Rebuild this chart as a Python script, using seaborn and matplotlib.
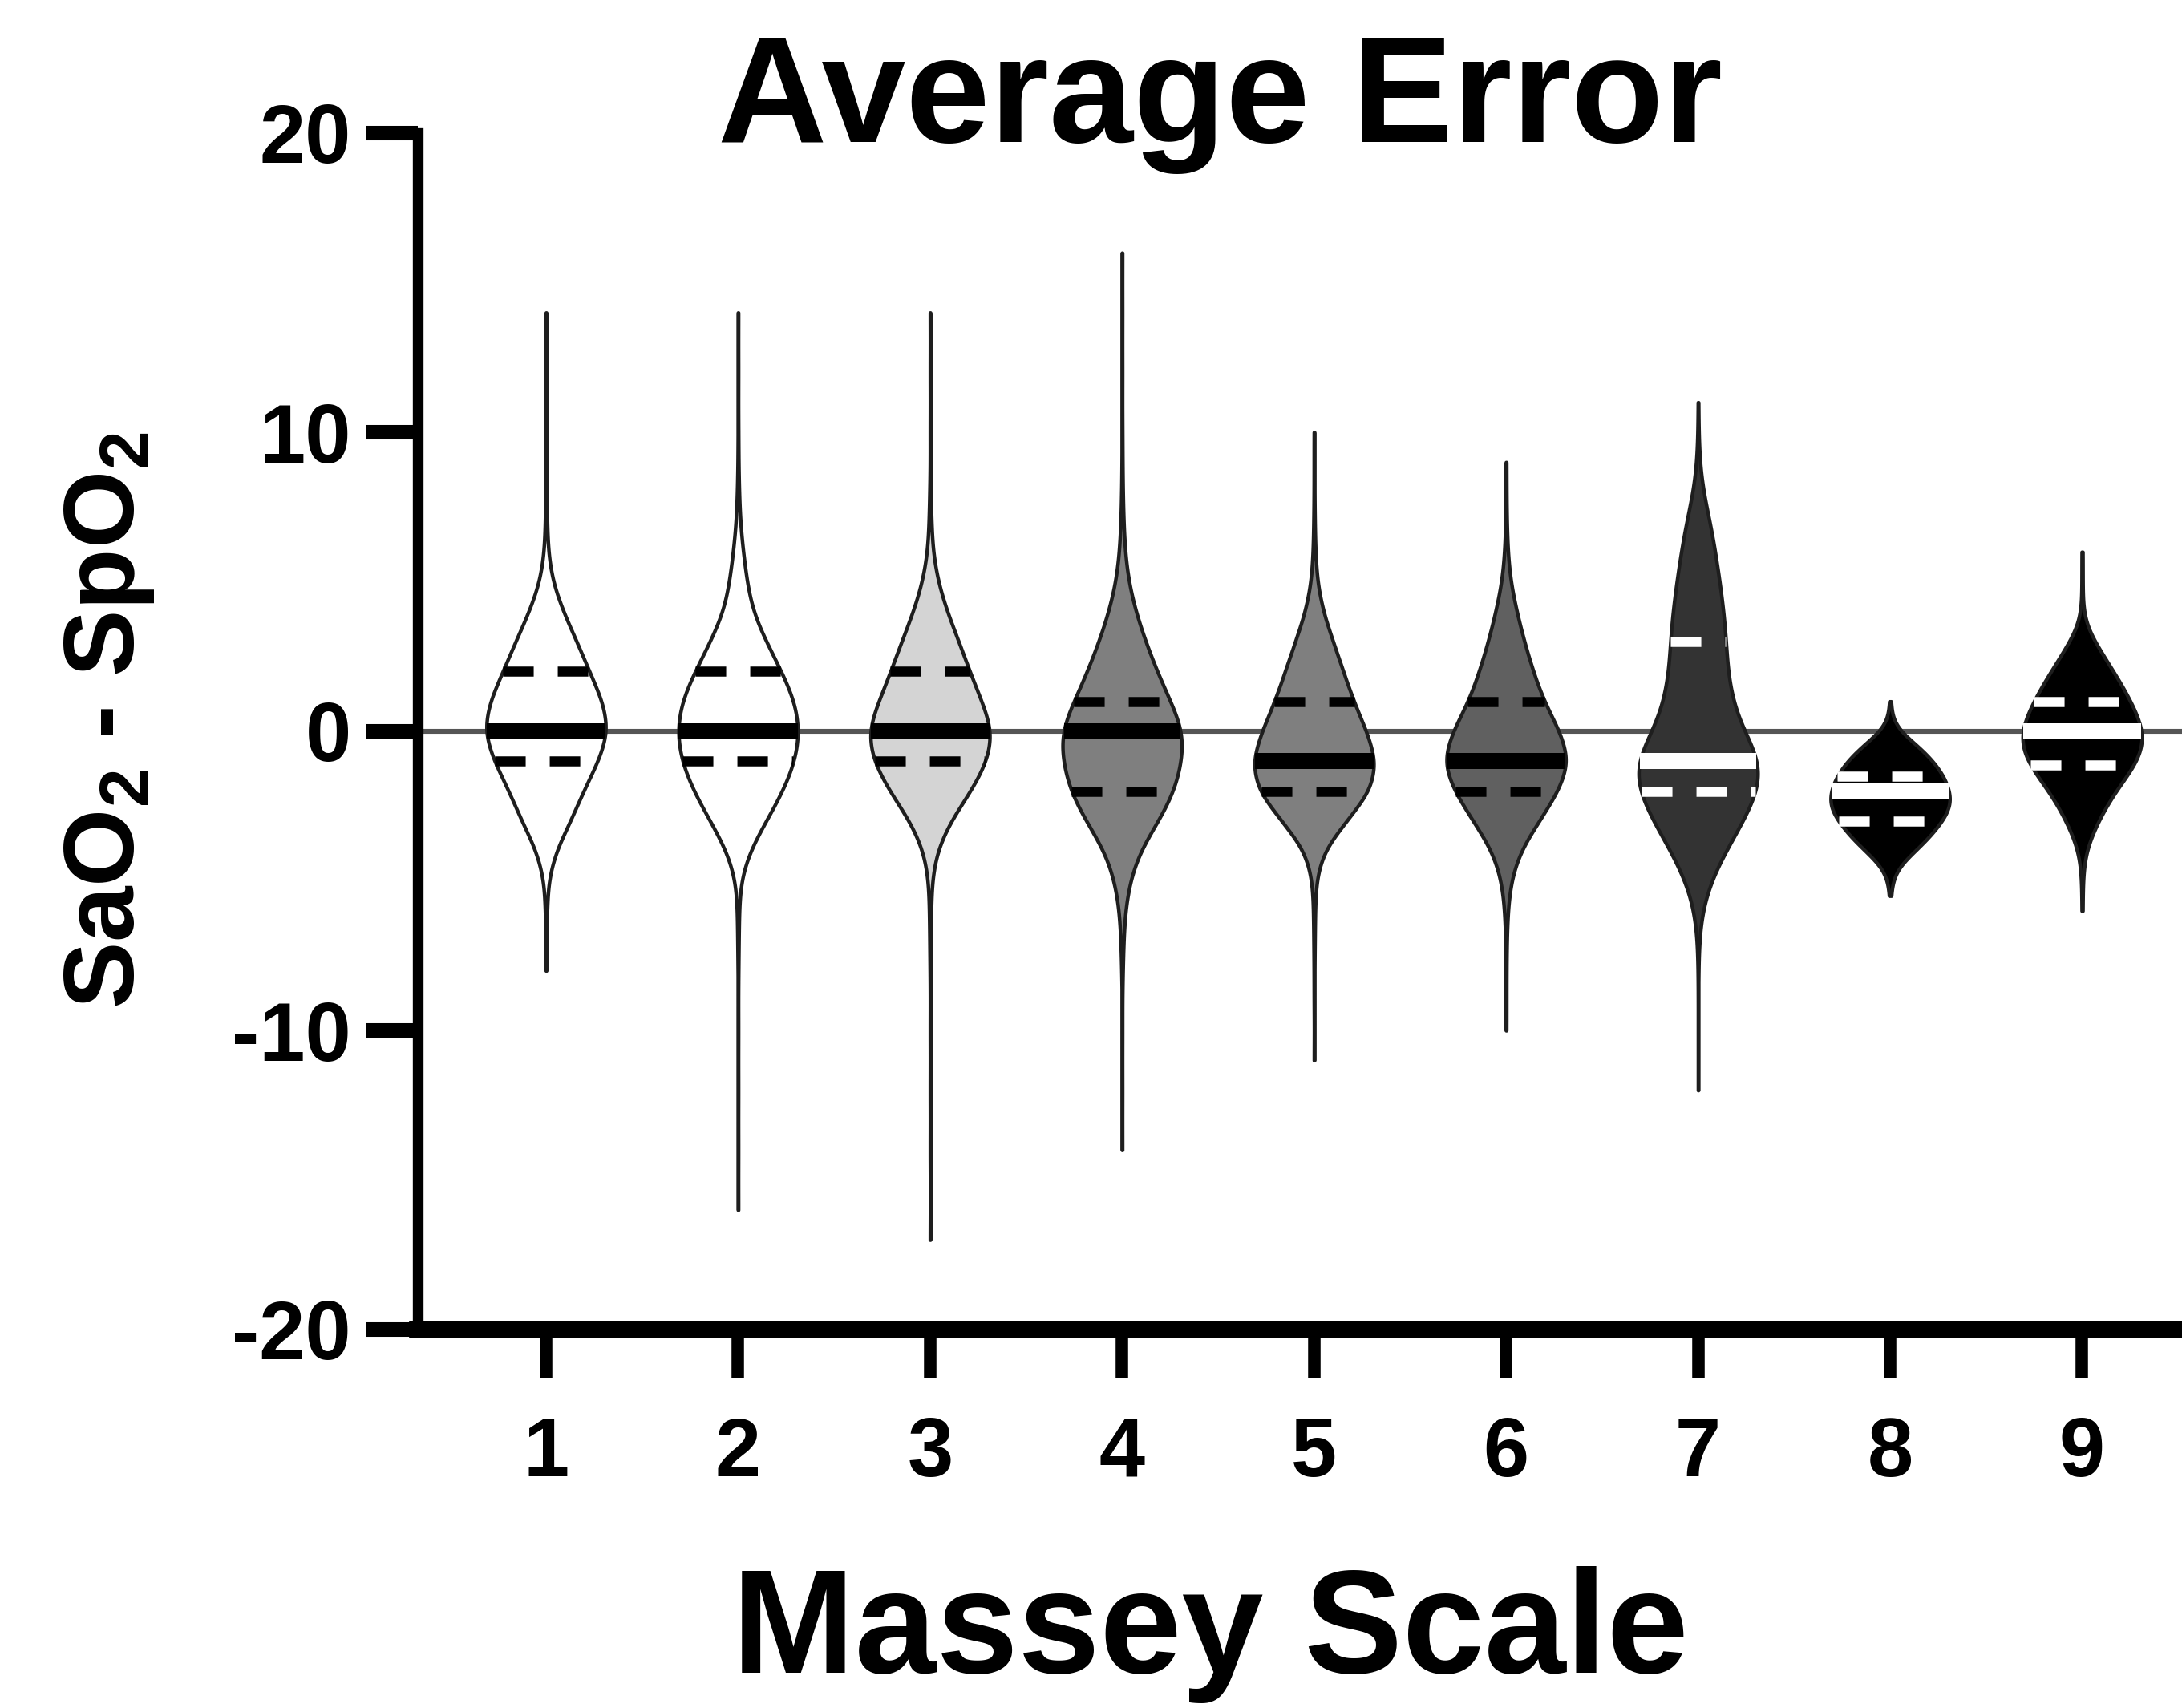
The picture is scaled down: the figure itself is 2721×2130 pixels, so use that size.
import numpy as np
import pandas as pd
import matplotlib
matplotlib.use("Agg")
import matplotlib.pyplot as plt
import seaborn as sns

# ---------------- data ----------------
massey = ["1", "2", "3", "4", "5", "6", "7", "8", "9"]
fill_colors = ["#ffffff", "#ffffff", "#d4d4d4", "#7f7f7f", "#7f7f7f",
               "#606060", "#333333", "#000000", "#000000"]
quart_colors = ["black"] * 6 + ["white"] * 3

# error values (SaO2 - SpO2) and how often each occurs, per Massey level
g1_err = [14, 12, 10, 9, 8, 7, 6, 5, 4, 3, 2, 1, 0, -1, -2, -3, -4, -5, -6, -7, -8]
g1_n = [1, 1, 1, 1, 2, 3, 6, 20, 55, 100, 140, 185, 205, 170, 120, 80, 30, 6, 3, 1, 1]

g2_err = [14, 12, 10, 9, 8, 7, 6, 5, 4, 3, 2, 1, 0, -1, -2, -3, -4, -5, -6, -7, -8, -10, -12, -14, -16]
g2_n = [1, 1, 1, 1, 3, 6, 16, 28, 45, 90, 140, 185, 200, 185, 145, 90, 35, 6, 3, 2, 1, 1, 1, 1, 1]

g3_err = [14, 12, 10, 8, 7, 6, 5, 4, 3, 2, 1, 0, -1, -2, -3, -4, -5, -6, -7, -8, -10, -12, -14, -17]
g3_n = [1, 1, 1, 2, 4, 8, 25, 55, 95, 130, 170, 210, 190, 135, 65, 20, 5, 3, 2, 1, 1, 1, 1, 1]

g4_err = [16, 14, 12, 10, 9, 8, 7, 6, 5, 4, 3, 2, 1, 0, -1, -2, -3, -4, -5, -6, -7, -8, -10, -12, -14]
g4_n = [1, 1, 1, 1, 1, 2, 4, 8, 18, 40, 70, 105, 145, 190, 180, 160, 110, 50, 22, 8, 4, 2, 1, 1, 1]

g5_err = [10, 9, 8, 7, 6, 5, 4, 3, 2, 1, 0, -1, -2, -3, -4, -5, -6, -7, -8, -9, -11]
g5_n = [1, 1, 1, 2, 4, 10, 30, 65, 100, 135, 180, 215, 195, 110, 30, 6, 3, 2, 1, 1, 1]

g6_err = [9, 8, 7, 6, 5, 4, 3, 2, 1, 0, -1, -2, -3, -4, -5, -6, -7, -8, -9, -10]
g6_n = [1, 1, 2, 5, 14, 35, 60, 90, 125, 180, 215, 175, 110, 45, 15, 5, 2, 1, 1, 1]

g7_err = [11, 10, 9, 8, 7, 6, 5, 4, 3, 2, 1, 0, -1, -2, -3, -4, -5, -6, -7, -8, -10, -12]
g7_n = [1, 1, 4, 14, 44, 60, 76, 90, 100, 100, 120, 150, 240, 215, 160, 95, 40, 10, 2, 1, 1, 1]

g8_err = [1.0, 0.5, 0.0, -0.5, -1.0, -1.5, -2.0, -2.5, -3.0, -3.5, -4.0, -4.5, -5.0, -5.5]
g8_n = [1, 1, 8, 30, 45, 56, 62, 64, 54, 42, 26, 8, 2, 1]

g9_err = [6, 5, 4, 3.5, 3, 2.5, 2, 1.5, 1, 0.5, 0, -0.5, -1, -1.5, -2, -2.5, -3, -3.5, -4, -4.5, -5, -6]
g9_n = [1, 1, 1, 2, 12, 20, 29, 38, 45, 52, 58, 58, 52, 42, 30, 22, 15, 8, 3, 1, 1, 1]

groups_err = [g1_err, g2_err, g3_err, g4_err, g5_err, g6_err, g7_err, g8_err, g9_err]
groups_n = [g1_n, g2_n, g3_n, g4_n, g5_n, g6_n, g7_n, g8_n, g9_n]

rows_x, rows_y = [], []
for lev, vals, cnts in zip(massey, groups_err, groups_n):
    obs = np.repeat(np.asarray(vals, dtype=float), cnts)
    rows_y.append(obs)
    rows_x.append(np.full(len(obs), lev))
df = pd.DataFrame({"massey": np.concatenate(rows_x), "error": np.concatenate(rows_y)})

# ---------------- style ----------------
sns.set_style("ticks")
plt.rcParams["font.family"] = ["Liberation Sans", "DejaVu Sans"]
plt.rcParams["font.weight"] = "bold"
plt.rcParams["text.color"] = "black"
plt.rcParams["axes.labelcolor"] = "black"
plt.rcParams["xtick.color"] = "black"
plt.rcParams["ytick.color"] = "black"
plt.rcParams["axes.unicode_minus"] = False
plt.rcParams["lines.scale_dashes"] = False
plt.rcParams["mathtext.fontset"] = "custom"
plt.rcParams["mathtext.rm"] = "Liberation Sans:bold"
plt.rcParams["mathtext.it"] = "Liberation Sans:bold"
plt.rcParams["mathtext.bf"] = "Liberation Sans:bold"

W, H = 2721, 2130
fig = plt.figure(figsize=(W / 200, H / 200), dpi=200)
ax = fig.add_axes([521 / W, 1 - 1658 / H, 1 - 521 / W, (1658 - 166) / H])

ax.axhline(0, color="#555555", lw=2.2, zorder=0.5)

n_before = len(ax.lines)
sns.violinplot(data=df, x="massey", y="error", order=massey,
               hue="massey", hue_order=massey, palette=fill_colors,
               legend=False, dodge=False, saturation=1,
               inner="quart", cut=0, density_norm="width", width=0.62,
               bw_adjust=1.2, gridsize=400, linewidth=1.6,
               linecolor="#1e1e1e", ax=ax)

# style the quartile lines: median solid & thick, quartiles dashed
new_lines = ax.lines[n_before:]
by_cat = {}
for ln in new_lines:
    xd = np.asarray(ln.get_xdata(), dtype=float)
    yd = np.asarray(ln.get_ydata(), dtype=float)
    if len(xd) < 2:
        continue
    c = int(round(xd.mean()))
    by_cat.setdefault(c, []).append((yd.mean(), ln))
for c, items in by_cat.items():
    items.sort(key=lambda t: t[0])
    col = quart_colors[c]
    for k, (_, ln) in enumerate(items):
        ln.set_color(col)
        ln.set_zorder(3)
        ln.set_solid_capstyle("butt")
        ln.set_dash_capstyle("butt")
        if k == 1:
            ln.set_linestyle("-")
            ln.set_linewidth(7.2)
        else:
            ln.set_linewidth(4.5)
            ln.set_linestyle((0, (13.7, 10.8)))

ax.set_xlim(-0.668, 8.52)
ax.set_ylim(-20, 20)
ax.set_yticks([-20, -10, 0, 10, 20])
ax.set_xticks(range(len(massey)))
ax.set_xticklabels(massey)
ax.set_xlabel("")
ax.set_ylabel("")

for side in ["top", "right"]:
    ax.spines[side].set_visible(False)
ax.spines["left"].set_linewidth(4.8)
ax.spines["bottom"].set_linewidth(7.8)
ax.spines["left"].set_color("black")
ax.spines["bottom"].set_color("black")

ax.tick_params(axis="y", length=23, width=6.5, pad=7, labelsize=37, colors="black", direction="out")
ax.tick_params(axis="x", length=22, width=5.6, pad=17, labelsize=37, colors="black", direction="out")
for lab in ax.get_xticklabels() + ax.get_yticklabels():
    lab.set_fontweight("bold")

fig.text(1521 / W, 1 - 177 / H, "Average Error", ha="center", va="baseline",
         fontsize=68, fontweight="bold", color="black")
fig.text(1509 / W, 1 - 2086 / H, "Massey Scale", ha="center", va="baseline",
         fontsize=66, fontweight="bold", color="black")
fig.text(137 / W, 1 - 898 / H, r"SaO$_{\mathbf{2}}$ - SpO$_{\mathbf{2}}$",
         rotation=90, ha="center", va="center", fontsize=45, fontweight="bold",
         color="black")

fig.savefig("out.png", dpi=200, facecolor="white")
